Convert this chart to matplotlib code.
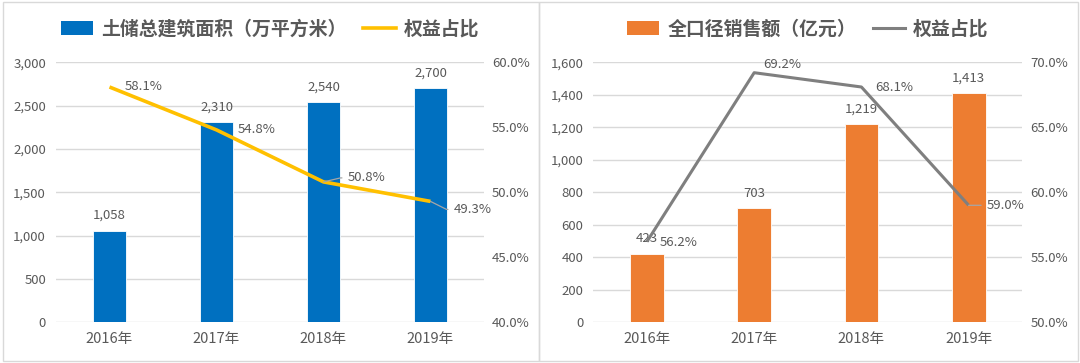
import matplotlib
matplotlib.use("Agg")
import matplotlib.pyplot as plt
from matplotlib.patches import Patch, Rectangle
from matplotlib.lines import Line2D
from matplotlib.ticker import FuncFormatter, MultipleLocator

plt.rcParams['font.family'] = ['Noto Sans CJK SC', 'DejaVu Sans']

# ---------------- data ----------------
years = ['2016年', '2017年', '2018年', '2019年']
land_area = [1058, 2310, 2540, 2700]          # 土储总建筑面积（万平方米）
land_equity = [58.1, 54.8, 50.8, 49.3]        # 权益占比 (%)
sales = [423, 703, 1219, 1413]                # 全口径销售额（亿元）
sales_equity = [56.2, 69.2, 68.1, 59.0]       # 权益占比 (%)

left_bar_label = '土储总建筑面积（万平方米）'
right_bar_label = '全口径销售额（亿元）'
line_label = '权益占比'

# ---------------- style ----------------
W, H = 1080, 363
TXT = '#595959'
GRID = '#D9D9D9'
BLUE = '#0070C0'
ORANGE = '#ED7D31'
YELLOW = '#FFC000'
GRAYL = '#7F7F7F'
LEADER = '#A6A6A6'

fig = plt.figure(figsize=(W / 100, H / 100), dpi=100)
fig.patch.set_facecolor('white')


def px_axes(x0, x1, ytop, ybot):
    return fig.add_axes([x0 / W, 1 - ybot / H, (x1 - x0) / W, (ybot - ytop) / H])


# panel borders
for (x0, x1) in [(2.5, 539), (539, 1077.5)]:
    fig.add_artist(Rectangle((x0 / W, 2.5 / H), (x1 - x0) / W, (361.5 - 2.5) / H,
                             transform=fig.transFigure, fill=False,
                             edgecolor=GRID, lw=1.0))

thousands = FuncFormatter(lambda v, p: f'{int(v):,}')
pct = FuncFormatter(lambda v, p: f'{v:.1f}%')


def panel(ax_px, bars, bar_color, bar_max, bar_step, line_vals, line_color, line_lw,
          pct_lo, pct_hi, line_offsets, leader_idx, bar_name):
    ax = px_axes(*ax_px)
    x = list(range(len(years)))
    ax.bar(x, bars, width=0.315, color=bar_color, edgecolor='white', lw=0.6, zorder=2)
    ax.set_xlim(-0.5, len(years) - 0.5)
    ax.set_ylim(0, bar_max)
    ax.yaxis.set_major_locator(MultipleLocator(bar_step))
    ax.yaxis.set_major_formatter(thousands)
    ax.grid(axis='y', color=GRID, lw=1.0, zorder=0)
    ax.set_axisbelow(True)
    for s in ax.spines.values():
        s.set_visible(False)
    ax.set_xticks(x)
    ax.set_xticklabels(years)
    ax.tick_params(axis='x', length=0, pad=7, labelsize=10.5, labelcolor=TXT)
    ax.tick_params(axis='y', length=0, pad=7.2, labelsize=9.5, labelcolor=TXT)
    for xi, v in zip(x, bars):
        ax.annotate(f'{v:,}', (xi, v), xytext=(0, 15), textcoords='offset pixels',
                    ha='center', va='center', fontsize=9.5, color=TXT, zorder=5)

    ax2 = ax.twinx()
    ax2.set_ylim(pct_lo, pct_hi)
    ax2.yaxis.set_major_locator(MultipleLocator(5))
    ax2.yaxis.set_major_formatter(pct)
    ax2.tick_params(axis='y', length=0, pad=5.8, labelsize=9.5, labelcolor=TXT)
    for s in ax2.spines.values():
        s.set_visible(False)
    ax2.plot(x, line_vals, color=line_color, lw=line_lw, solid_joinstyle='round',
             solid_capstyle='butt', zorder=4)
    for i, (xi, v) in enumerate(zip(x, line_vals)):
        dx, dy = line_offsets[i]
        kw = {}
        if i in leader_idx:
            kw['arrowprops'] = dict(arrowstyle='-', color=LEADER, lw=0.9,
                                    shrinkA=2, shrinkB=0, relpos=(0, 0.5),
                                    connectionstyle='arc,angleA=180,armA=7,angleB=0,armB=0,rad=0')
        ax2.annotate(f'{v:.1f}%', (xi, v), xytext=(dx, -dy), textcoords='offset pixels',
                     ha='left', va='center', fontsize=9.5, color=TXT, zorder=6, **kw)

    # legend
    handles = [Patch(facecolor=bar_color, edgecolor='none'),
               Line2D([0], [0], color=line_color, lw=line_lw)]
    cx = (ax_px[0] + ax_px[1]) / 2
    fig.legend(handles, [bar_name, line_label], loc='center',
               bbox_to_anchor=(cx / W, 1 - 29 / H), ncol=2, frameon=False,
               prop=dict(size=13.6, weight='bold'), labelcolor=TXT,
               handlelength=1.7, handletextpad=0.42, columnspacing=0.9,
               borderaxespad=0, borderpad=0)
    return ax, ax2


# left panel
panel((56, 484, 62.3, 322.3), land_area, BLUE, 3000, 500, land_equity, YELLOW, 2.6,
      40, 60, [(15, 0), (21, 0), (24, -4), (23, 8)], {2, 3}, left_bar_label)

# right panel
panel((593.3, 1022.3, 62.3, 322.3), sales, ORANGE, 1600, 200, sales_equity, GRAYL, 2.2,
      50, 70, [(13, 1), (9, -8), (14, 0), (18, 0)], {3}, right_bar_label)

fig.savefig('out.png', dpi=100, facecolor='white')
